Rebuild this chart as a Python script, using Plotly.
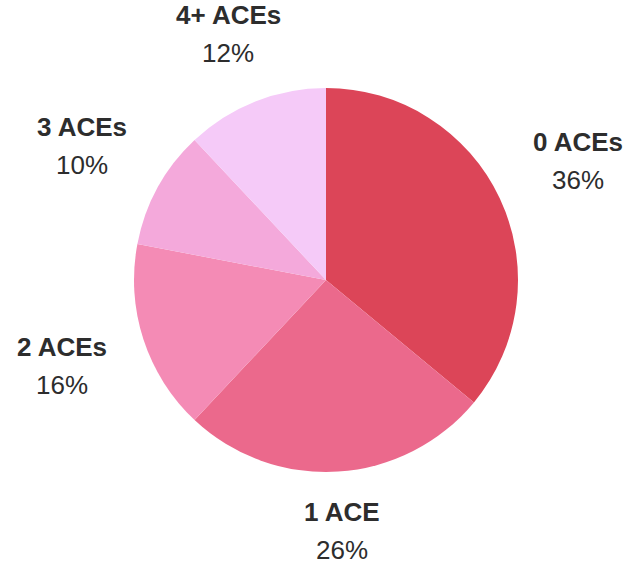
import math
import plotly.graph_objects as go

categories = ["0 ACEs", "1 ACE", "2 ACEs", "3 ACEs", "4+ ACEs"]
values = [36, 26, 16, 10, 12]
colors = ["#DC4558", "#EB698C", "#F48BB5", "#F4A9DB", "#F5CAF8"]

W, H = 625, 565
L, R, T, B = 134, 107, 88, 93
side = W - L - R  # 384
radius = side / 2

fig = go.Figure(go.Pie(
    labels=categories, values=values, sort=False, direction="clockwise",
    rotation=0, marker=dict(colors=colors, line=dict(width=0)),
    textinfo="none", hoverinfo="label+percent", showlegend=False,
))

total = sum(values)
cum = 0
gap = 27
hw, hh = 52, 29
font_fam = "Liberation Sans, Arial, sans-serif"
for cat, v in zip(categories, values):
    mid = 90 - (cum + v / 2) / total * 360
    cum += v
    a = math.radians(mid)
    ext = abs(hw * math.cos(a)) + abs(hh * math.sin(a))
    d = radius + gap + ext
    cx = d * math.cos(a)
    cy = d * math.sin(a)
    pct = f"{round(v / total * 100)}%"
    for txt, off, bold in [(cat, 19, True), (pct, -19, False)]:
        fig.add_annotation(
            x=0.5 + cx / side, y=0.5 + (cy + off) / side,
            xref="paper", yref="paper", showarrow=False,
            text=f"<b>{txt}</b>" if bold else txt,
            font=dict(family=font_fam, size=26, color="#2d2d2d"),
            xanchor="center", yanchor="middle",
        )

fig.update_layout(
    width=W, height=H,
    margin=dict(l=L, r=R, t=T, b=B),
    paper_bgcolor="white", plot_bgcolor="white",
)
fig.write_html(
    "out.html",
    config={"displayModeBar": False},
    post_script="document.body.style.margin='0';document.body.style.overflow='hidden';",
)
